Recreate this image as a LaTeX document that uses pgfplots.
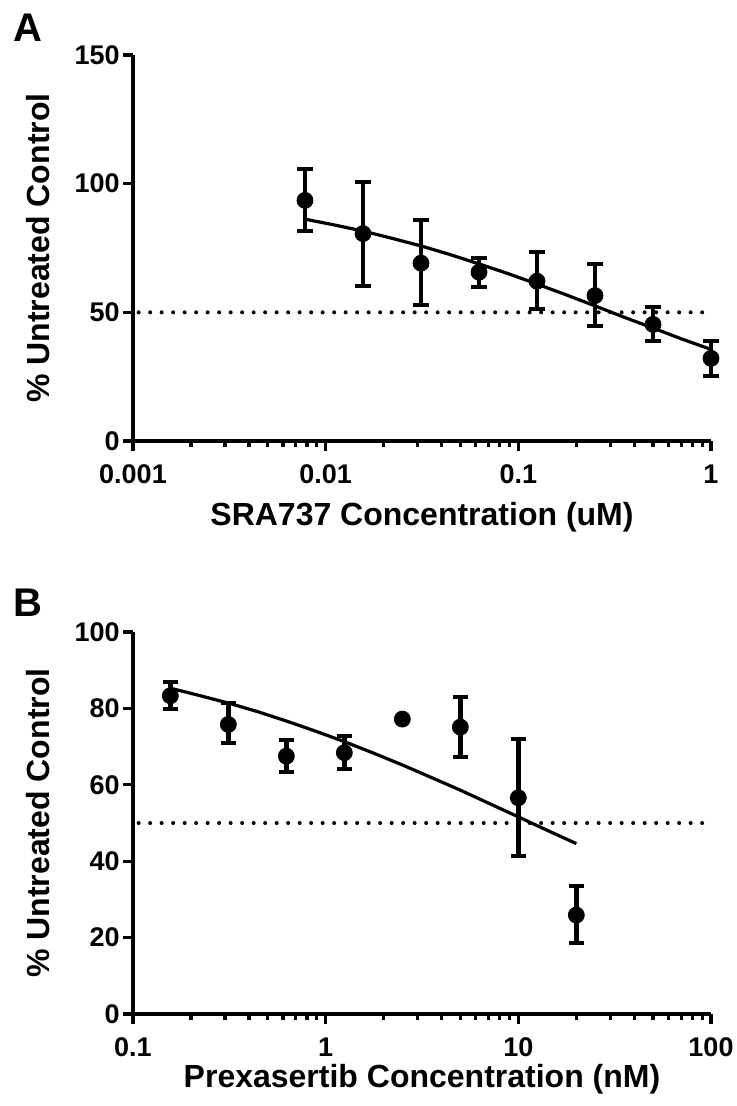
\documentclass[border=0pt]{standalone}
\usepackage{fontspec}
\setmainfont{Liberation Sans}
\usepackage{pgfplots}
\usepackage{pgfplotstable}
\pgfplotsset{compat=1.18}

\pgfplotstableread{
x y ep em
0.0078125 93.5 12.3 11.9
0.015625 80.6 20.1 20.2
0.03125 69.1 16.7 16.4
0.0625 65.6 5.6 5.6
0.125 62.1 11.4 10.8
0.25 56.5 12.1 11.9
0.5 45.3 6.7 6.5
1 32.1 6.9 6.7
}\dataA

\pgfplotstableread{
x y
0.0078125 86.2
0.011 84.0
0.0156 81.6
0.022 78.8
0.03125 75.8
0.044 72.5
0.0625 68.8
0.088 65.1
0.125 61.0
0.177 56.8
0.25 52.5
0.354 48.1
0.5 43.9
0.707 39.6
1 35.6
}\fitA

\pgfplotstableread{
x y ep em
0.15625 83.3 3.6 3.4
0.3125 75.8 5.5 4.9
0.625 67.5 4.3 4.1
1.25 68.4 4.3 4.3
5 75.1 8.0 7.7
10 56.6 15.4 15.2
20 25.9 7.6 7.3
}\dataB

\pgfplotstableread{
x y
2.5 77.2
}\dataBnoerr

\pgfplotstableread{
x y
0.156 85.3
0.22 83.4
0.3125 81.4
0.44 79.2
0.625 76.7
0.88 74.1
1.25 71.3
1.77 68.3
2.5 65.2
3.54 61.9
5 58.6
7.07 55.1
10 51.6
14.1 48.1
20 44.6
}\fitB

\begin{document}
\begin{tikzpicture}
\useasboundingbox (0,0) rectangle (368pt,553pt);

\node[font=\fontsize{20}{20}\selectfont\bfseries] at (14pt,539pt) {A};
\node[font=\fontsize{20}{20}\selectfont\bfseries] at (14pt,251.5pt) {B};

% Panel A
\begin{axis}[
  scale only axis,
  width=289pt,
  height=193pt,
  at={(66.5pt,332.5pt)}, anchor=south west,
  xmode=log,
  axis x line*=bottom,
  axis y line*=left,
  axis line style={line width=2pt, black},
  every tick/.style={line width=1.6pt, black},
  tick align=outside,
  major tick length=5pt,
  minor tick length=2.8pt,
  tick label style={font=\fontsize{13.5}{13.5}\selectfont\bfseries},
  yticklabel style={inner sep=1.5pt},
  xticklabel style={yshift=-3.5pt},
  label style={font=\fontsize{16}{16}\selectfont\bfseries},
  clip=false,
  xmin=0.001, xmax=1, ymin=0, ymax=150,
  xtick={0.001,0.01,0.1,1},
  xticklabels={0.001,0.01,0.1,1},
  minor xtick={0.002,0.003,0.004,0.005,0.006,0.007,0.008,0.009,0.02,0.03,0.04,0.05,0.06,0.07,0.08,0.09,0.2,0.3,0.4,0.5,0.6,0.7,0.8,0.9},
  ytick={0,50,100,150},
  yticklabels={0,50,100,150},
  xlabel={SRA737 Concentration (uM)},
  ylabel={\% Untreated Control},
  xlabel style={at={(axis description cs:0.5,0)}, anchor=center, yshift=-38pt},
  ylabel style={at={(axis description cs:-0.164,0.5)}, anchor=center},
]
\addplot[no marks, line width=2pt, black, line cap=round, dash pattern=on 0pt off 5.75pt] coordinates {(0.00107,50) (1,50)};
\addplot[no marks, line width=1.6pt, black] table[x=x,y=y] {\fitA};
\addplot[only marks, mark=*, mark size=4pt, black, mark options={fill=black, draw=black},
  error bars/y dir=both, error bars/y explicit,
  error bars/error bar style={line width=2.3pt, black},
  error bars/error mark options={rotate=90, mark size=3.8pt, line width=2pt, black}]
  table[x=x,y=y,y error plus=ep,y error minus=em] {\dataA};
\end{axis}

% Panel B
\begin{axis}[
  scale only axis,
  width=289pt,
  height=191pt,
  at={(66.5pt,46pt)}, anchor=south west,
  xmode=log,
  axis x line*=bottom,
  axis y line*=left,
  axis line style={line width=2pt, black},
  every tick/.style={line width=1.6pt, black},
  tick align=outside,
  major tick length=5pt,
  minor tick length=2.8pt,
  tick label style={font=\fontsize{13.5}{13.5}\selectfont\bfseries},
  yticklabel style={inner sep=1.5pt},
  xticklabel style={yshift=-3.5pt},
  label style={font=\fontsize{16}{16}\selectfont\bfseries},
  clip=false,
  xmin=0.1, xmax=100, ymin=0, ymax=100,
  xtick={0.1,1,10,100},
  xticklabels={0.1,1,10,100},
  minor xtick={0.2,0.3,0.4,0.5,0.6,0.7,0.8,0.9,2,3,4,5,6,7,8,9,20,30,40,50,60,70,80,90},
  ytick={0,20,40,60,80,100},
  yticklabels={0,20,40,60,80,100},
  xlabel={Prexasertib Concentration (nM)},
  ylabel={\% Untreated Control},
  xlabel style={at={(axis description cs:0.5,0)}, anchor=center, yshift=-32.5pt},
  ylabel style={at={(axis description cs:-0.164,0.5)}, anchor=center},
]
\addplot[no marks, line width=2pt, black, line cap=round, dash pattern=on 0pt off 5.75pt] coordinates {(0.107,50) (100,50)};
\addplot[no marks, line width=1.6pt, black] table[x=x,y=y] {\fitB};
\addplot[only marks, mark=*, mark size=4pt, black, mark options={fill=black, draw=black},
  error bars/y dir=both, error bars/y explicit,
  error bars/error bar style={line width=2.3pt, black},
  error bars/error mark options={rotate=90, mark size=3.8pt, line width=2pt, black}]
  table[x=x,y=y,y error plus=ep,y error minus=em] {\dataB};
\addplot[only marks, mark=*, mark size=4pt, black, mark options={fill=black, draw=black}] table[x=x,y=y] {\dataBnoerr};
\end{axis}
\end{tikzpicture}
\end{document}
